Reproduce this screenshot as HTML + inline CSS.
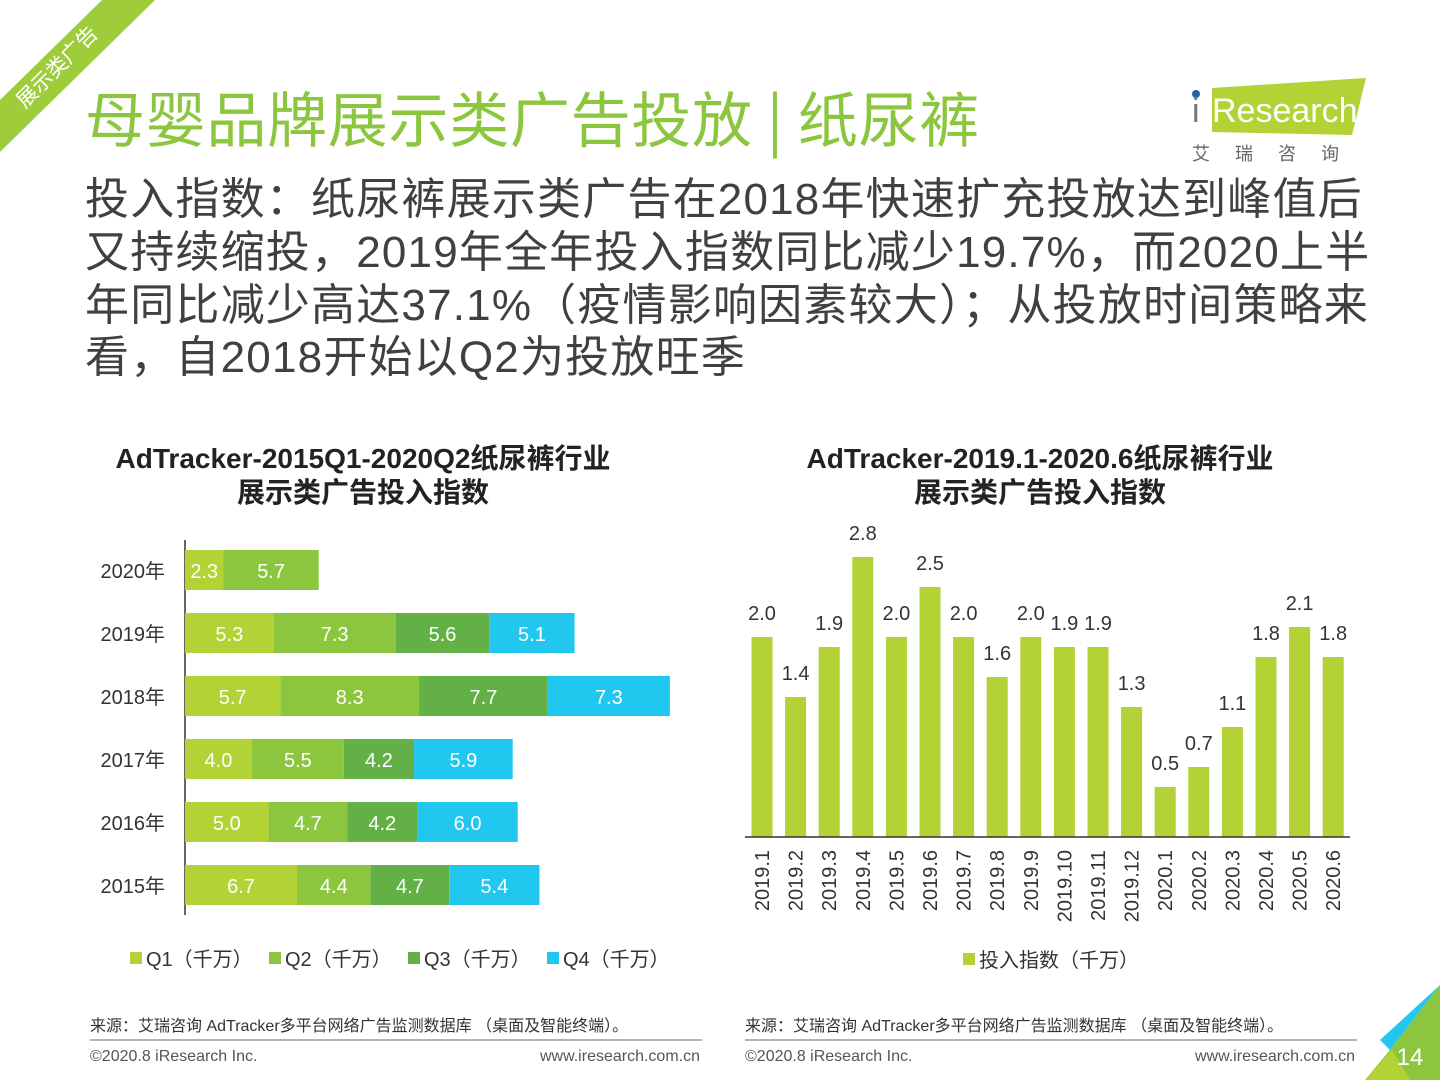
<!DOCTYPE html>
<html><head><meta charset="utf-8"><style>
body{margin:0;width:1440px;height:1080px;overflow:hidden;background:#fff;font-family:"Liberation Sans","Noto Sans CJK SC",sans-serif;position:relative}
.abs{position:absolute}
</style></head><body>
<svg class="abs" style="left:0;top:0" width="1440" height="1080">
<polygon points="0,100 0,152 155,0 102,0" fill="#9fcc3b"/>
<text x="62" y="72" transform="rotate(-45 62 72)" font-size="21" fill="#fff" text-anchor="middle" font-family="Noto Sans CJK SC">展示类广告</text>
<text x="85" y="142" font-size="60" fill="#8cc63e" font-family="Noto Sans CJK SC" letter-spacing="0.7">母婴品牌展示类广告投放 | 纸尿裤</text>
<polygon points="1212,88 1366,78 1352,135 1212,132" fill="#b2d235"/>
<circle cx="1196" cy="94" r="4" fill="#2a5ea8"/>
<text x="1192" y="122" font-size="34" fill="#777">i</text>
<text x="1212" y="122" font-size="34" fill="#fff">Research</text>
<text x="1192" y="160" font-size="18" fill="#666" font-family="Noto Sans CJK SC" letter-spacing="25">艾瑞咨询</text>
<g font-size="44" fill="#404040" font-family="Liberation Sans, Noto Sans CJK SC" letter-spacing="1.2">
<text x="85" y="214">投入指数：纸尿裤展示类广告在2018年快速扩充投放达到峰值后</text>
<text x="85" y="267">又持续缩投，2019年全年投入指数同比减少19.7%，而2020上半</text>
<text x="85" y="320">年同比减少高达37.1%（疫情影响因素较大）；从投放时间策略来</text>
<text x="85" y="372">看，自2018开始以Q2为投放旺季</text>
</g>
<g font-size="28" font-weight="bold" fill="#222" text-anchor="middle" font-family="Liberation Sans, Noto Sans CJK SC">
<text x="363" y="468">AdTracker-2015Q1-2020Q2纸尿裤行业</text>
<text x="363" y="502">展示类广告投入指数</text>
<text x="1040" y="468">AdTracker-2019.1-2020.6纸尿裤行业</text>
<text x="1040" y="502">展示类广告投入指数</text>
</g>
<g id="left"></g>
<g id="right"></g>
<g font-size="16" fill="#333" font-family="Liberation Sans, Noto Sans CJK SC">
<text x="90" y="1031">来源：艾瑞咨询 AdTracker多平台网络广告监测数据库 （桌面及智能终端）。</text>
<text x="745" y="1031">来源：艾瑞咨询 AdTracker多平台网络广告监测数据库 （桌面及智能终端）。</text>
<text x="90" y="1061" fill="#555">©2020.8 iResearch Inc.</text>
<text x="700" y="1061" fill="#555" text-anchor="end">www.iresearch.com.cn</text>
<text x="745" y="1061" fill="#555">©2020.8 iResearch Inc.</text>
<text x="1355" y="1061" fill="#555" text-anchor="end">www.iresearch.com.cn</text>
</g>
<line x1="90" y1="1040" x2="702" y2="1040" stroke="#999" stroke-width="1.5"/>
<line x1="745" y1="1040" x2="1357" y2="1040" stroke="#999" stroke-width="1.5"/>
<polygon points="1440,985 1440,1080 1365,1080 1390,1050" fill="#8cc63e"/>
<polygon points="1440,985 1390,1050 1380,1040" fill="#22c7ef"/>
<polygon points="1365,1080 1392,1050 1410,1080" fill="#b2d235"/>
<text x="1410" y="1065" font-size="24" fill="#fff" text-anchor="middle">14</text>
</svg>
<script>
const years=["2020年","2019年","2018年","2017年","2016年","2015年"];
const q1=[2.3,5.3,5.7,4.0,5.0,6.7];
const q2=[5.7,7.3,8.3,5.5,4.7,4.4];
const q3=[null,5.6,7.7,4.2,4.2,4.7];
const q4=[null,5.1,7.3,5.9,6.0,5.4];
const months=["2019.1","2019.2","2019.3","2019.4","2019.5","2019.6","2019.7","2019.8","2019.9","2019.10","2019.11","2019.12","2020.1","2020.2","2020.3","2020.4","2020.5","2020.6"];
const idx=[2.0,1.4,1.9,2.8,2.0,2.5,2.0,1.6,2.0,1.9,1.9,1.3,0.5,0.7,1.1,1.8,2.1,1.8];
const NS="http://www.w3.org/2000/svg";
function mk(p,t,a){const e=document.createElementNS(NS,t);for(const k in a)e.setAttribute(k,a[k]);p.appendChild(e);return e;}
const colors=["#b2d235","#8cc63e","#62b046","#22c7ef"];
const L=document.getElementById('left');
const x0=185,sx=16.72,yc=i=>570+i*63;
mk(L,'line',{x1:x0,y1:540,x2:x0,y2:915,stroke:'#333','stroke-width':1.5});
const series=[q1,q2,q3,q4];
years.forEach((y,i)=>{
 const t=mk(L,'text',{x:165,y:yc(i)+8,'font-size':20,fill:'#333','text-anchor':'end'});t.textContent=y;
 
 
 let acc=0;
 series.forEach((s,k)=>{const v=s[i];if(v==null)return;
  const r=mk(L,'rect',{x:x0+acc*sx,y:yc(i)-20,width:v*sx,height:40,fill:colors[k]});
  
  
  const lb=mk(L,'text',{x:x0+(acc+v/2)*sx,y:yc(i)+8,'font-size':20,fill:'#fff','text-anchor':'middle'});lb.textContent=v.toFixed(1);
  acc+=v;});
});
const lg=["Q1（千万）","Q2（千万）","Q3（千万）","Q4（千万）"],lx=[130,269,408,547];
lg.forEach((s,k)=>{const r=mk(L,'rect',{x:lx[k],y:952,width:12,height:12,fill:colors[k]});
 
 
 const t=mk(L,'text',{x:lx[k]+16,y:966,'font-size':20,fill:'#333'});t.textContent=s;});
const R=document.getElementById('right');
const base=837,sy=100,cx=i=>762+i*33.6;
months.forEach((m,i)=>{
 const h=idx[i]*sy;
 const r=mk(R,'rect',{x:cx(i)-10.5,y:base-h,width:21,height:h,fill:'#b2d235'});
 
 
 const v=mk(R,'text',{x:cx(i),y:base-h-17,'font-size':20,fill:'#333','text-anchor':'middle'});v.textContent=idx[i].toFixed(1);
 const t=mk(R,'text',{x:0,y:0,'font-size':20,fill:'#333','text-anchor':'end',transform:`translate(${cx(i)+7},850) rotate(-90)`});t.textContent=m;
});
mk(R,'line',{x1:745,y1:base,x2:1350,y2:base,stroke:'#333','stroke-width':1.5});
const rr=mk(R,'rect',{x:963,y:953,width:12,height:12,fill:'#b2d235'});


const rt=mk(R,'text',{x:979,y:967,'font-size':20,fill:'#333'});rt.textContent="投入指数（千万）";
</script>
</body></html>
